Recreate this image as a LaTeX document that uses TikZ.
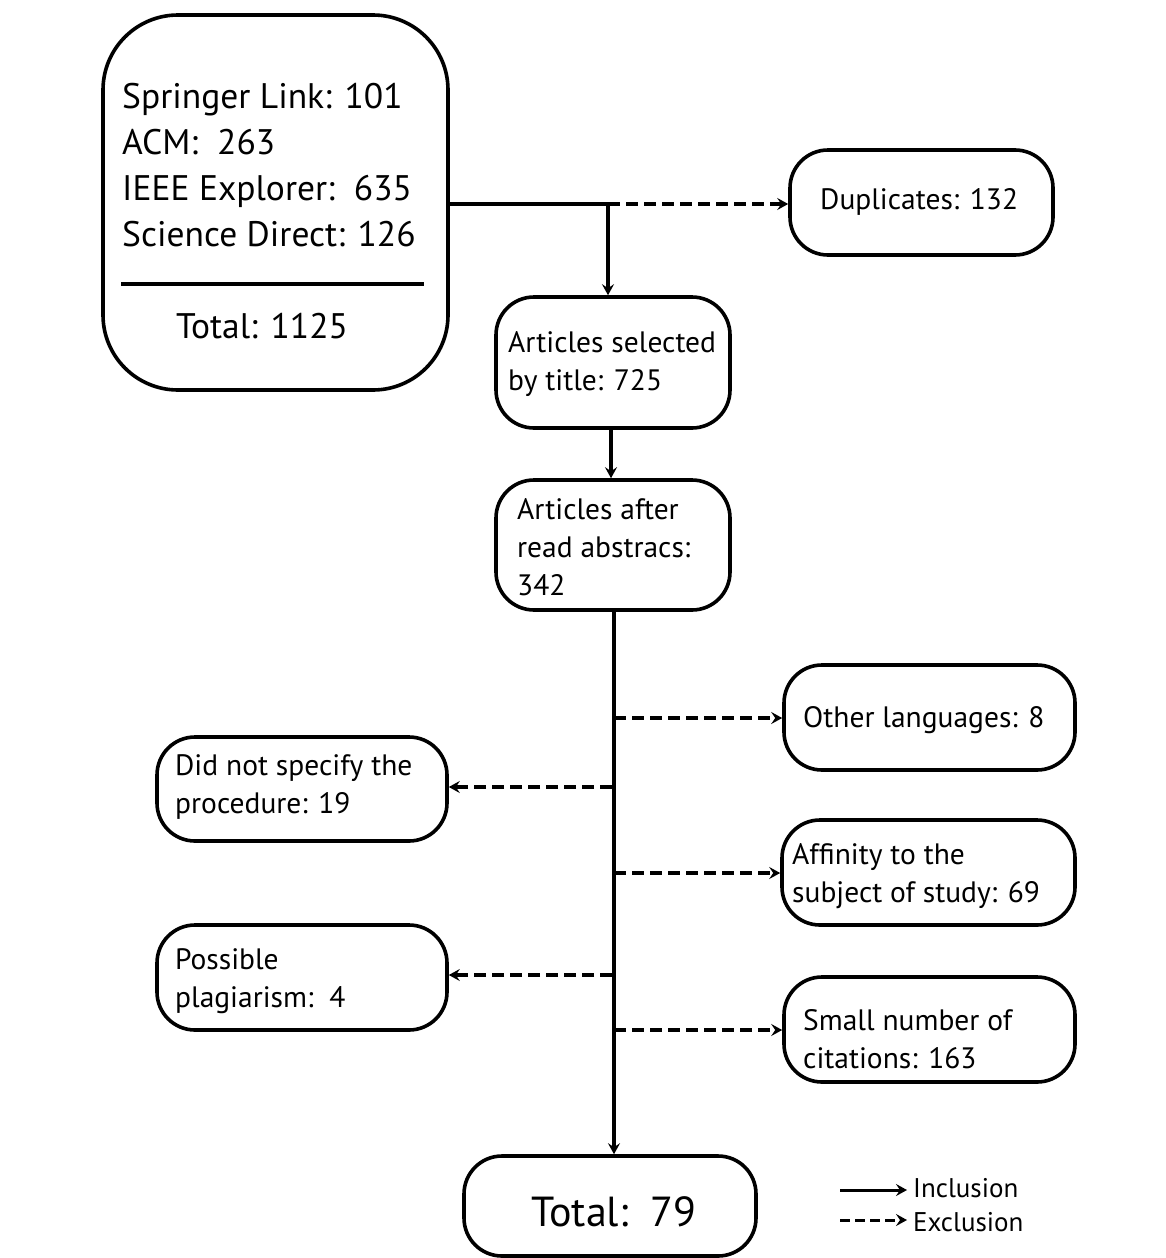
\documentclass[tikz,border=0pt]{standalone}
\usepackage{fontspec}
\setmainfont{PT Sans}
\usetikzlibrary{arrows.meta}
\tikzset{
  box/.style={draw, line width=3.6pt, rounded corners=38pt, inner sep=0pt},
  txt/.style={inner sep=0pt, font=\fontsize{29.5}{38}\selectfont, align=left},
  big/.style={inner sep=0pt, font=\fontsize{35.5}{46}\selectfont},
  conn/.style={line width=3.4pt, -{Stealth[length=11pt,width=12pt,inset=4pt]}},
  excl/.style={conn, dash pattern=on 12pt off 6pt},
}
\begin{document}
\begin{tikzpicture}[x=1pt,y=-1pt]
\useasboundingbox (0,0) rectangle (1165,1258);
% source box
\node[box, rounded corners=75pt, minimum width=345pt, minimum height=375pt] (src) at (275.5,202.5) {};
\node[big, anchor=base west] (l1) at (122,108) {Springer Link: 101};
\node[big, anchor=base west] (l2) at (122,154) {ACM:\ \ 263};
\node[big, anchor=base west] (l3) at (122,200) {IEEE Explorer:\ \ 635};
\node[big, anchor=base west] (l4) at (122,246) {Science Direct: 126};
\coordinate (r1) at (121,284);
\coordinate (r2) at (424,284);
\draw[line width=3.4pt] (r1) -- (r2);
\node[big, anchor=base] (tot) at (262,338) {Total: 1125};

% duplicates
\node[box, minimum width=263pt, minimum height=105pt] (dup) at (921.5,202.5) {};
\node[txt, anchor=west] (duptx) at (820,202) {Duplicates: 132};

% articles selected
\node[box, minimum width=234pt, minimum height=131pt] (sel) at (613,362.5) {};
\node[txt, anchor=west] (seltx) at (508,364) {Articles selected\\by title: 725};

% articles after abstracts
\node[box, minimum width=234pt, minimum height=130pt] (abs) at (613,545) {};
\node[txt, anchor=west] (abstx) at (517,547) {Articles after\\read abstracs:\\342};

% other languages
\node[box, minimum width=291pt, minimum height=105pt] (oth) at (929.5,717.5) {};
\node[txt, anchor=west] (othtx) at (803,720) {Other languages: 8};

% did not specify
\node[box, minimum width=290pt, minimum height=104pt] (dns) at (302,789) {};
\node[txt, anchor=west] (dnstx) at (175,787) {Did not specify the\\procedure: 19};

% affinity
\node[box, minimum width=293pt, minimum height=105pt] (aff) at (928.5,872.5) {};
\node[txt, anchor=west] (afftx) at (792,876) {Affinity to the\\subject of study: 69};

% plagiarism
\node[box, minimum width=290pt, minimum height=105pt] (pla) at (302,977.5) {};
\node[txt, anchor=west] (platx) at (175,981) {Possible\\plagiarism:\ \ 4};

% small citations
\node[box, minimum width=291pt, minimum height=105pt] (cit) at (929.5,1029.5) {};
\node[txt, anchor=west] (cittx) at (803,1039) {Small number of\\citations: 163};

% total
\node[box, minimum width=292pt, minimum height=100pt] (fin) at (610,1206) {};
\node[inner sep=0pt, font=\fontsize{42}{50}\selectfont] (fintx) at (614,1212) {Total:\ \ 79};

% connectors
\coordinate (j1) at (608,204);
\draw[line width=3.4pt] (src.east |- j1) -- (j1);
\draw[conn] (j1) -- (j1 |- sel.north);
\draw[excl] (j1) -- (dup.west |- j1);
\draw[conn] (sel.south -| 611,0) -- (abs.north -| 611,0);
\coordinate (t0) at (614,610);
\draw[conn] (t0) -- (t0 |- fin.north);
\coordinate (b1) at (614,718);
\coordinate (b2) at (612,787);
\coordinate (b3) at (614,873);
\coordinate (b4) at (612,975);
\coordinate (b5) at (614,1030);
\draw[excl] (b1) -- (oth.west |- b1);
\draw[excl] (b2) -- (dns.east |- b2);
\draw[excl] (b3) -- (aff.west |- b3);
\draw[excl] (b4) -- (pla.east |- b4);
\draw[excl] (b5) -- (cit.west |- b5);

% legend
\coordinate (g1) at (840,1190);
\coordinate (g2) at (907,1190);
\coordinate (g3) at (840,1220);
\coordinate (g4) at (907,1220);
\draw[conn, line width=3pt] (g1) -- (g2);
\draw[excl, line width=3pt, dash pattern=on 10pt off 5pt] (g3) -- (g4);
\node[inner sep=0pt, font=\fontsize{27}{32}\selectfont, anchor=west] (inc) at (913,1188) {Inclusion};
\node[inner sep=0pt, font=\fontsize{27}{32}\selectfont, anchor=west] (exc) at (913,1222) {Exclusion};
\end{tikzpicture}
\end{document}
